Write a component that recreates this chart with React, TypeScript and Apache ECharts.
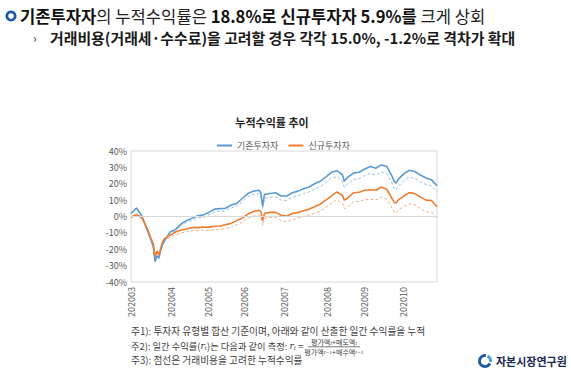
import React, { useEffect, useRef } from "react";
import * as echarts from "echarts";

// ---- data ----
const months = ["202003", "202004", "202005", "202006", "202007", "202008", "202009", "202010"];
const tradingDaysPerMonth = [22, 20, 19, 22, 23, 20, 21, 19];

const sampleDays = [
  0, 3, 6, 9, 10, 11, 12, 13, 14, 15, 16, 17, 18,
  21, 24, 27, 30, 33, 36, 39, 42, 45, 48, 51, 54, 57, 60, 63, 66, 69,
  70, 71,
  72, 75, 78, 81, 84, 87, 90, 93, 96, 99, 102, 105, 108, 111, 114,
  115, 116,
  117, 120, 123, 126, 129, 132, 135, 138, 141,
  142, 143,
  144, 147, 150, 153, 156, 159, 162, 165,
];

const existingSolid = [
  1.8, 5.2, 0, -9, -12, -15, -18.5, -27.5, -24, -25.5, -20.5, -17, -15,
  -9.5, -8, -4.5, -2.5, -1, 0.5, 1, 2.5, 4.5, 4.8, 5, 7, 8, 11, 14, 15.5, 16,
  14.5, 6.5,
  13.5, 14, 14.5, 12.5, 12.5, 14.5, 15.5, 17, 18, 20, 21.5, 24, 27, 28, 25.5,
  21.5, 23,
  24, 26.5, 27, 29, 30.5, 29.5, 31.5, 30.5, 24,
  21, 20.5,
  22.5, 26, 28.2, 27.5, 25.3, 23.5, 22.5, 18.8,
];

const existingCost = [
  1.8, 5.0, -0.2, -9.3, -12.3, -15.3, -18.8, -27.8, -24.5, -26, -21, -17.5, -15.5,
  -10.2, -8.6, -5.5, -3.6, -2.2, -0.8, -0.5, 1, 3, 3.2, 3.3, 5.2, 6.2, 9, 12, 13.5, 14,
  12.3, 4.5,
  11.2, 11.6, 12, 10, 9.8, 11.8, 12.6, 14, 15, 16.8, 18.2, 20.6, 23.5, 24.3, 21.8,
  17.8, 19.2,
  20.2, 22.6, 23.1, 25, 26.3, 25.3, 27.2, 26.2, 19.8,
  16.7, 16.2,
  18.2, 21.8, 24, 23.3, 21.1, 19.6, 18.7, 15,
];

const newSolid = [
  -0.5, 1.2, -1, -8, -11, -14, -16.5, -24.5, -21, -23.5, -19.5, -15.5, -13.5,
  -11.5, -9.5, -8.2, -7.6, -6.8, -6.8, -6.5, -6.5, -6, -5.8, -5, -4.2, -2.5, -1, 1.5, 3, 3.8,
  3, -2.5,
  2, 2.5, 2.5, 0.8, 0.3, 1.8, 2.5, 3.5, 4.5, 6, 7.5, 10, 12.5, 15, 13,
  10, 10.5,
  11.5, 14.5, 14.8, 16, 16.3, 16, 18, 16.5, 10.5,
  8.5, 8.2,
  10, 12.5, 14.6, 14, 12, 10, 9.8, 5.9,
];

const newCost = [
  -0.5, 1.1, -1.2, -8.3, -11.4, -14.4, -17, -25, -21.6, -24.2, -20.2, -16.5, -14.5,
  -12.8, -11.2, -10, -9.4, -8.6, -8.6, -8.4, -8.5, -8.1, -8, -7.3, -6.6, -5, -3.6, -1.2, 0.2, 0.9,
  0, -5.5,
  -1, -0.6, -0.7, -2.6, -3.2, -1.8, -1, 0, 0.8, 2, 3.3, 5.6, 7.9, 10.2, 8,
  4.8, 5.2,
  6, 9, 9.2, 10.3, 10.5, 10.1, 12, 10.5, 4.5,
  2.5, 2.2,
  3.8, 6, 7.8, 7.1, 5, 2.9, 2.7, -1.2,
];

const seriesNames = ["기존투자자", "신규투자자"];
const yTicks = [-40, 40, 10];

const headline1 = ["기존투자자", "의 누적수익률은 ", "18.8%로 신규투자자 5.9%를", " 크게 상회"];
const headline2 = "거래비용(거래세·수수료)을 고려할 경우 각각 15.0%, -1.2%로 격차가 확대";
const chartTitle = "누적수익률 추이";
const note1 = "주1): 투자자 유형별 합산 기준이며, 아래와 같이 산출한 일간 수익률을 누적";
const note3 = "주3): 점선은 거래비용을 고려한 누적수익률";
const orgName = "자본시장연구원";

const KR = "'Noto Sans CJK KR', 'Noto Sans', sans-serif";
const SERIF = "'DejaVu Serif', serif";

export default function App() {
  const ref = useRef<HTMLDivElement>(null);

  useEffect(() => {
    if (!ref.current) return;
    const chart = echarts.init(ref.current, undefined, { renderer: "svg" });

    const categories: string[] = [];
    const monthStart = new Set<number>();
    months.forEach((m, mi) => {
      monthStart.add(categories.length);
      for (let d = 1; d <= tradingDaysPerMonth[mi]; d++) categories.push(`${m}-${d}`);
    });
    const toPairs = (vals: number[]) => sampleDays.map((d, k) => [categories[d], vals[k]]);

    const noteColor = "#404040";
    const subStyle = { fontFamily: SERIF, fontStyle: "italic", fontSize: 4.5, fill: noteColor, verticalAlign: "bottom" };

    const option: any = {
      animation: false,
      backgroundColor: "#ffffff",
      textStyle: { fontFamily: KR },
      grid: {
        left: 131,
        right: 134,
        top: 151,
        bottom: 90,
        show: true,
        borderColor: "#d9d9d9",
        borderWidth: 1,
        backgroundColor: "transparent",
      },
      legend: {
        data: seriesNames,
        left: 212,
        top: 136,
        itemWidth: 15,
        itemHeight: 2,
        itemGap: 10,
        icon: "rect",
        textStyle: { fontSize: 9, color: "#595959", fontFamily: KR },
      },
      xAxis: {
        type: "category",
        data: categories,
        boundaryGap: false,
        axisLine: { show: false, onZero: false },
        axisTick: { show: false },
        splitLine: { show: false },
        axisLabel: {
          rotate: 90,
          margin: 5,
          fontSize: 9,
          color: "#595959",
          fontFamily: KR,
          interval: (index: number) => monthStart.has(index),
          formatter: (v: string) => v.split("-")[0],
        },
      },
      yAxis: {
        type: "value",
        min: yTicks[0],
        max: yTicks[1],
        interval: yTicks[2],
        axisLine: { show: false },
        axisTick: { show: false },
        splitLine: { show: false },
        axisLabel: {
          formatter: "{value}%",
          fontSize: 9,
          color: "#595959",
          margin: 4,
          fontFamily: KR,
        },
      },
      series: [
        {
          name: "기존투자자(비용)",
          type: "line",
          data: toPairs(existingCost),
          symbol: "none",
          lineStyle: { color: "#9dc3e6", width: 1, type: [3, 2] },
          markLine: {
            silent: true,
            symbol: ["none", "none"],
            label: { show: false },
            lineStyle: { color: "#d9d9d9", type: "solid", width: 1 },
            data: [{ yAxis: 0 }],
          },
          z: 1,
        },
        {
          name: "신규투자자(비용)",
          type: "line",
          data: toPairs(newCost),
          symbol: "none",
          lineStyle: { color: "#f4b183", width: 1, type: [3, 2] },
          z: 2,
        },
        {
          name: seriesNames[0],
          type: "line",
          data: toPairs(existingSolid),
          symbol: "none",
          itemStyle: { color: "#5b9bd5" },
          lineStyle: { color: "#5b9bd5", width: 1.6 },
          z: 3,
        },
        {
          name: seriesNames[1],
          type: "line",
          data: toPairs(newSolid),
          symbol: "none",
          itemStyle: { color: "#ed7d31" },
          lineStyle: { color: "#ed7d31", width: 1.6 },
          z: 4,
        },
      ],
      graphic: [
        // bullet ring
        {
          type: "ring",
          shape: { cx: 11, cy: 16, r: 5.5, r0: 2.8 },
          style: { fill: "#1f5aa6" },
        },
        {
          type: "text",
          x: 20,
          y: 16,
          style: {
            text:
              `{b|${headline1[0]}}{n|${headline1[1]}}{b|${headline1[2]}}{n|${headline1[3]}}`,
            verticalAlign: "middle",
            rich: {
              b: { fontFamily: KR, fontSize: 16.6, fontWeight: "bold", fill: "#111111" },
              n: { fontFamily: KR, fontSize: 16.6, fontWeight: "normal", fill: "#222222" },
            },
          },
        },
        {
          type: "text",
          x: 33,
          y: 37,
          style: { text: "›", font: `12px ${KR}`, fill: "#333333", verticalAlign: "middle" },
        },
        {
          type: "text",
          x: 50,
          y: 37,
          style: { text: headline2, font: `bold 14.9px ${KR}`, fill: "#1a1a1a", verticalAlign: "middle" },
        },
        // chart title
        {
          type: "text",
          x: 272,
          y: 122,
          style: {
            text: chartTitle,
            font: `bold 11px ${KR}`,
            fill: "#262626",
            align: "center",
            verticalAlign: "middle",
          },
        },
        // footnotes
        {
          type: "text",
          x: 131,
          y: 330.5,
          style: { text: note1, font: `9.7px ${KR}`, fill: noteColor, verticalAlign: "middle" },
        },
        {
          type: "text",
          x: 131,
          y: 346,
          style: {
            text: "주2): 일간 수익률({i|r}{s|t})는 다음과 같이 측정: {i|r}{s|t} =",
            verticalAlign: "middle",
            font: `9.3px ${KR}`,
            fill: noteColor,
            rich: {
              i: { fontFamily: SERIF, fontStyle: "italic", fontSize: 9, fill: noteColor },
              s: { fontFamily: SERIF, fontStyle: "italic", fontSize: 5.5, fill: noteColor, verticalAlign: "bottom" },
            },
          },
        },
        {
          type: "text",
          x: 334,
          y: 342.1,
          style: {
            text: "평가액{s|t}+매도액{s|t}",
            align: "center",
            verticalAlign: "middle",
            font: `7px ${KR}`,
            fill: noteColor,
            rich: { s: subStyle },
          },
        },
        {
          type: "line",
          shape: { x1: 308, y1: 346.8, x2: 360, y2: 346.8 },
          style: { stroke: noteColor, lineWidth: 0.7 },
        },
        {
          type: "text",
          x: 334,
          y: 351.6,
          style: {
            text: "평가액{s|t−1}+매수액{s|t−1}",
            align: "center",
            verticalAlign: "middle",
            font: `7px ${KR}`,
            fill: noteColor,
            rich: { s: subStyle },
          },
        },
        {
          type: "text",
          x: 131,
          y: 359.5,
          style: { text: note3, font: `9.7px ${KR}`, fill: noteColor, verticalAlign: "middle" },
        },
        // logo
        {
          type: "arc",
          shape: { cx: 485, cy: 361, r: 5.5, startAngle: Math.PI * 0.15, endAngle: Math.PI * 1.55 },
          style: { stroke: "#1f5aa6", lineWidth: 3, fill: "none" },
        },
        {
          type: "arc",
          shape: { cx: 485, cy: 361, r: 5.5, startAngle: Math.PI * 1.65, endAngle: Math.PI * 2.05 },
          style: { stroke: "#4fa3d9", lineWidth: 3, fill: "none" },
        },
        {
          type: "text",
          x: 496,
          y: 361,
          style: { text: orgName, font: `bold 11px ${KR}`, fill: "#1c2a55", verticalAlign: "middle" },
        },
      ],
    };

    chart.setOption(option);
    return () => chart.dispose();
  }, []);

  return (
    <div
      ref={ref}
      style={{ position: "absolute", left: 0, top: 0, width: 571, height: 372, background: "#fff" }}
    />
  );
}
